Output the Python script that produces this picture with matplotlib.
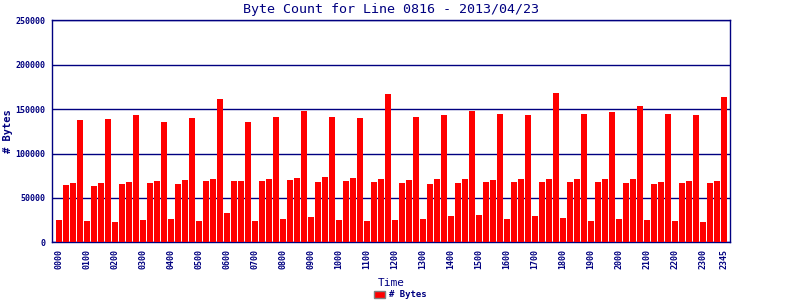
import matplotlib
matplotlib.use("Agg")
import matplotlib.pyplot as plt
from matplotlib.patches import Patch

title = "Byte Count for Line 0816 - 2013/04/23"
times = ["%02d%02d" % (h, m) for h in range(24) for m in (0, 15, 30, 45)]
byte_counts = [
    25200, 64700, 66900, 138000, 24000, 63500, 66900, 139200,
    22900, 65800, 68000, 143600, 25200, 66900, 69200, 135800,
    26300, 65800, 70300, 140300, 24000, 69200, 71400, 161700,
    33100, 69200, 69200, 135800, 24000, 69200, 71400, 141400,
    26300, 70300, 72600, 148100, 28600, 68000, 73700, 141400,
    25200, 69200, 72600, 140300, 24000, 68000, 71400, 167300,
    25200, 66900, 70300, 141400, 26300, 65800, 71400, 143600,
    29700, 66900, 71400, 148100, 30800, 68000, 70300, 144800,
    26300, 68000, 71400, 143600, 29700, 68000, 71400, 168400,
    27400, 68000, 71400, 144800, 24000, 68000, 71400, 146900,
    26300, 66900, 71400, 153800, 25200, 65800, 68000, 144800,
    24000, 66900, 69200, 143600, 22900, 66900, 69200, 163900,
]
tick_labels = [t for t in times if t.endswith("00")] + ["2345"]
y_ticks = [0, 50000, 100000, 150000, 200000, 250000]

navy = "#000080"
red = "#FF0000"
mono = ["DejaVu Sans Mono"]

fig = plt.figure(figsize=(8, 3), dpi=100)
ax = fig.add_axes([0.065, 0.1923, 0.8475, 0.74])

x = list(range(len(times)))
bars = ax.bar(x, byte_counts, width=0.857, color=red, edgecolor="none", zorder=3)

ax.set_xlim(-1.0, 95.86)
ax.set_ylim(0, 250000)
ax.set_yticks(y_ticks)
ax.set_yticklabels([str(v) for v in y_ticks], fontsize=6, family=mono,
                   fontweight="bold", color=navy)
tick_pos = [times.index(t) for t in tick_labels]
ax.set_xticks(tick_pos)
ax.set_xticklabels(tick_labels, rotation=90, fontsize=6, family=mono,
                   fontweight="bold", color=navy)
ax.tick_params(axis="both", length=0, pad=5)

ax.yaxis.grid(True, color=navy, linewidth=1.0, zorder=1)
for s in ax.spines.values():
    s.set_color(navy)
    s.set_linewidth(1.0)

ax.set_title(title, fontsize=9.6, family=mono, color=navy, pad=5)
ax.set_xlabel("Time", fontsize=8, family=mono, color=navy, labelpad=6)
ax.set_ylabel("# Bytes", fontsize=7.5, family=mono, fontweight="bold",
              color=navy, va="center")
ax.yaxis.set_label_coords(-0.065, 0.5)

handle = Patch(facecolor=red, edgecolor="#808080", linewidth=1.0, label="# Bytes")
leg = fig.legend(handles=[handle], loc="center", bbox_to_anchor=(0.5, 0.017),
                 frameon=False, handlelength=1.3, handleheight=0.9,
                 handletextpad=0.4, prop={"family": mono, "weight": "bold", "size": 6.5})
for t in leg.get_texts():
    t.set_color(navy)

fig.savefig("out.png", dpi=100)
